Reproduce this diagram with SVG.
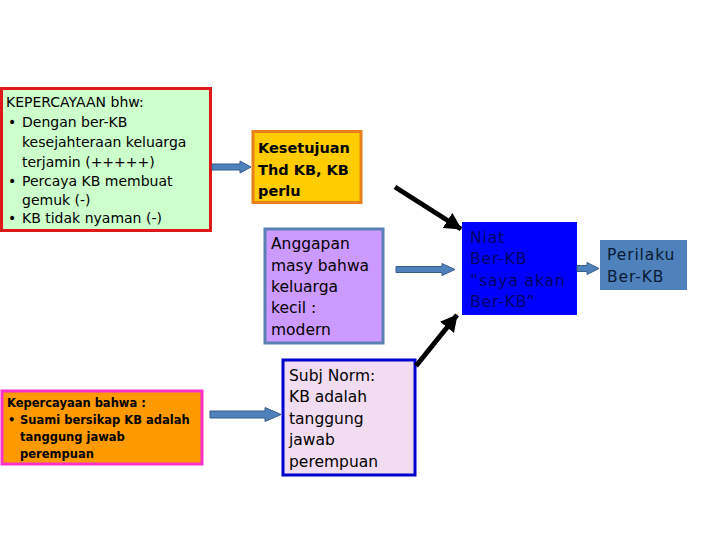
<svg xmlns="http://www.w3.org/2000/svg" width="720" height="540" viewBox="0 0 720 540">
<style>
text{font-family:"DejaVu Sans","Verdana",sans-serif;fill:#000}
.t1{font-size:14px}
.t2{font-size:15.5px}
.b{font-weight:bold;font-size:14.5px}
.sm{font-size:11.5px;font-weight:bold}
.sp{letter-spacing:0.9px}
.blk{fill:#4f81bd;stroke:#385d8a;stroke-width:1}
.thick{stroke:#000;stroke-width:5;fill:none}
</style>
<defs>
<marker id="ah" markerUnits="userSpaceOnUse" markerWidth="20" markerHeight="20" refX="16" refY="9" orient="auto">
<path d="M0,0 L17,9 L0,18 Z" fill="#000"/>
</marker>
</defs>
<rect width="720" height="540" fill="#fff"/>
<g id="n1">
<rect x="1.5" y="88.5" width="209" height="142" fill="#ccffcc" stroke="#e01818" stroke-width="3"/>
<text class="t1" x="6" y="107">KEPERCAYAAN bhw:</text>
<text class="t1" x="8" y="127">•</text><text class="t1" x="22" y="127">Dengan ber-KB</text>
<text class="t1" x="22" y="147">kesejahteraan keluarga</text>
<text class="t1" x="22" y="167">terjamin (+++++)</text>
<text class="t1" x="8" y="186">•</text><text class="t1" x="22" y="186">Percaya KB membuat</text>
<text class="t1" x="22" y="205">gemuk (-)</text>
<text class="t1" x="8" y="223">•</text><text class="t1" x="22" y="223">KB tidak nyaman (-)</text>
</g>
<g id="n2">
<rect x="253" y="131.5" width="108" height="71" fill="#ffcc00" stroke="#e8811a" stroke-width="3"/>
<text class="b" x="258" y="153">Kesetujuan</text>
<text class="b" x="258" y="175">Thd KB, KB</text>
<text class="b" x="258" y="196">perlu</text>
</g>
<g id="n3">
<rect x="265" y="229" width="118" height="114" fill="#cc99ff" stroke="#5b80b3" stroke-width="3"/>
<text class="t2" x="271" y="249">Anggapan</text>
<text class="t2" x="271" y="271">masy bahwa</text>
<text class="t2" x="271" y="292">keluarga</text>
<text class="t2" x="271" y="313">kecil :</text>
<text class="t2" x="271" y="335">modern</text>
</g>
<g id="n4">
<rect x="2" y="391" width="200" height="73" fill="#ff9900" stroke="#ff33cc" stroke-width="3"/>
<text class="sm" x="7" y="407">Kepercayaan bahwa :</text>
<text class="sm" x="8" y="424">•</text><text class="sm" x="20" y="424">Suami bersikap KB adalah</text>
<text class="sm" x="20" y="441">tanggung jawab</text>
<text class="sm" x="20" y="458">perempuan</text>
</g>
<g id="n5">
<rect x="283" y="360" width="132" height="115" fill="#f2dcf2" stroke="#0000cc" stroke-width="3"/>
<text class="t2" x="289" y="381">Subj Norm:</text>
<text class="t2" x="289" y="402">KB adalah</text>
<text class="t2" x="289" y="424">tanggung</text>
<text class="t2" x="289" y="445">jawab</text>
<text class="t2" x="289" y="467">perempuan</text>
</g>
<g id="n6">
<rect x="462" y="222" width="115" height="93" fill="#0000ff"/>
<text class="t2 sp" x="470" y="243" style="fill:#000066">Niat</text>
<text class="t2 sp" x="470" y="264" style="fill:#000066">Ber-KB</text>
<text class="t2 sp" x="470" y="286" style="fill:#000066">“saya akan</text>
<text class="t2 sp" x="470" y="307" style="fill:#000066">Ber-KB”</text>
</g>
<g id="n7">
<rect x="600" y="240" width="87" height="50" fill="#4f81bd"/>
<text class="t2 sp" x="607" y="260" style="fill:#0a1a33">Perilaku</text>
<text class="t2 sp" x="607" y="282" style="fill:#0a1a33">Ber-KB</text>
</g>
<g id="connectors">
<path class="blk" d="M212,164 H240 V161 L251,167 L240,173 V170 H212 Z"/>
<path class="blk" d="M210,411 H265 V407.5 L281,414.5 L265,421.5 V418 H210 Z"/>
<path class="blk" d="M396,266.5 H442 V263.5 L455,269.5 L442,275.5 V272.5 H396 Z"/>
<path class="blk" d="M577,265.5 H587 V262.5 L599,268.5 L587,274.5 V271.5 H577 Z"/>
<line class="thick" x1="395" y1="187" x2="461" y2="229" marker-end="url(#ah)"/>
<line class="thick" x1="416" y1="366" x2="457" y2="315" marker-end="url(#ah)"/>
</g>
</svg>
